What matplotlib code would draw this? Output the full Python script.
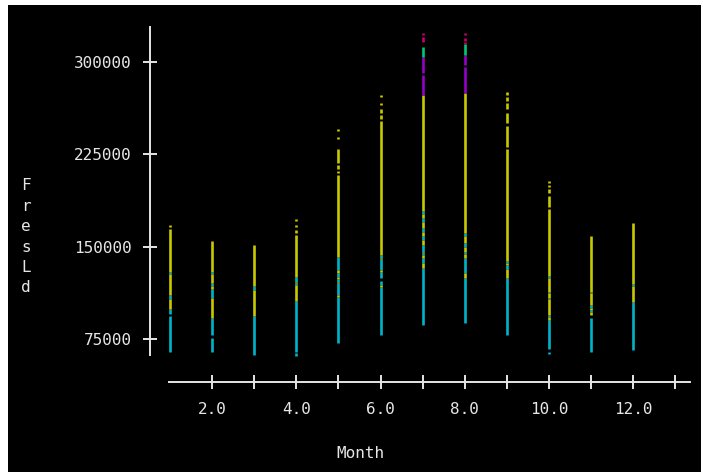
import matplotlib
matplotlib.use('Agg')
import matplotlib.pyplot as plt
from matplotlib.patches import Rectangle

# segments of the point strips: (month, low FresLd, high FresLd)
cyan_seg = [
    (1, 64700, 93900), (1, 95600, 99100), (1, 107300, 110800), (1, 128100, 129700),
    (2, 64700, 76100), (2, 78300, 92300), (2, 108600, 115600), (2, 118100, 120300), (2, 128100, 129700),
    (3, 62000, 93900), (3, 115100, 118100),
    (4, 61400, 63400), (4, 64700, 106100), (4, 118900, 120300), (4, 121600, 125100),
    (5, 71500, 108900), (5, 110800, 120300), (5, 121600, 123800), (5, 125100, 128900), (5, 131100, 141400),
    (6, 78300, 117000), (6, 118900, 122100), (6, 124300, 129700), (6, 131100, 139800), (6, 140600, 143300),
    (7, 86400, 132400), (7, 136500, 140600), (7, 143300, 144900), (7, 145900, 151400),
    (7, 155400, 158900), (7, 162200, 164900), (7, 170300, 173100), (7, 176300, 179000),
    (8, 87700, 124800), (8, 128400, 141100), (8, 143800, 145900), (8, 150000, 152800), (8, 158900, 160900),
    (9, 78300, 124800), (9, 131600, 135100), (9, 136500, 138400),
    (10, 63100, 64700), (10, 66900, 90400), (10, 92600, 94500), (10, 107500, 108600),
    (10, 112100, 113400), (10, 124800, 126400),
    (11, 64700, 92300), (11, 97200, 98600), (11, 100400, 102600), (11, 112100, 113400),
    (12, 66100, 105300), (12, 118100, 119400),
]
yellow_seg = [
    (1, 99100, 107300), (1, 110800, 128100), (1, 129700, 164100), (1, 166000, 167600),
    (2, 92300, 108600), (2, 115600, 118100), (2, 120300, 128100), (2, 129700, 154600),
    (3, 93900, 115100), (3, 118100, 151400),
    (4, 106100, 118900), (4, 120300, 121600), (4, 125100, 159500), (4, 161100, 163600),
    (4, 166000, 167600), (4, 171000, 172500),
    (5, 108900, 110800), (5, 120300, 121600), (5, 123800, 125100), (5, 128900, 131100),
    (5, 141400, 208000), (5, 210100, 211500), (5, 212900, 216100), (5, 218200, 229100),
    (5, 237500, 239100), (5, 244400, 246000),
    (6, 117000, 118900), (6, 129700, 131100), (6, 139800, 140600), (6, 143300, 252100),
    (6, 253500, 257000), (6, 258900, 261600), (6, 264900, 266500), (6, 271400, 273300),
    (7, 132400, 136500), (7, 140600, 143300), (7, 144900, 145900), (7, 151400, 155400),
    (7, 158900, 162200), (7, 164900, 170300), (7, 173100, 176300), (7, 179000, 273300),
    (8, 124800, 128400), (8, 141100, 143800), (8, 145900, 150000), (8, 152800, 158900), (8, 160900, 275100),
    (9, 124800, 131600), (9, 135100, 136500), (9, 138400, 229100), (9, 231200, 248300),
    (9, 250300, 258400), (9, 261900, 266500), (9, 268400, 271400), (9, 273300, 275400),
    (10, 90400, 92600), (10, 94500, 107500), (10, 108600, 112100), (10, 113400, 124800),
    (10, 126400, 180600), (10, 182500, 191400), (10, 193400, 196600), (10, 198300, 200100),
    (10, 201500, 203400),
    (11, 94500, 97200), (11, 98600, 100400), (11, 102600, 112100), (11, 113400, 158900),
    (12, 105300, 118100), (12, 119400, 169000),
]
purple_seg = [
    (7, 273300, 289500), (7, 290900, 304400),
    (8, 275100, 295800), (8, 297600, 305800),
]
green_seg = [
    (7, 304400, 312500),
    (8, 305800, 314400),
]
crimson_seg = [
    (7, 316100, 320600), (7, 322000, 323600),
    (8, 314400, 316100), (8, 317400, 319800), (8, 322000, 323600),
]

y_ticks = [75000, 150000, 225000, 300000]
x_major = [2, 4, 6, 8, 10, 12]
x_minor = [3, 5, 7, 9, 11, 13]

W, H = 703, 472
fg = '#e6e6e6'
font = 'DejaVu Sans Mono'

fig = plt.figure(figsize=(W / 100, H / 100), dpi=100, facecolor='white')
fig.patches.append(Rectangle((8 / W, 0), 693 / W, 467 / H, transform=fig.transFigure,
                             facecolor='black', edgecolor='none', zorder=-10))

ax = fig.add_axes([150 / W, 90 / H, 540 / W, 355 / H])
ax.set_facecolor('none')

for seg, col in [(cyan_seg, '#00b4c8'), (yellow_seg, '#c8c800'), (purple_seg, '#9600c8'),
                 (green_seg, '#00c878'), (crimson_seg, '#c80070')]:
    ax.vlines([s[0] for s in seg], [s[1] for s in seg], [s[2] for s in seg],
              colors=col, linewidth=1.9, capstyle='butt')

ax.set_xlim(0.525, 13.35)
ax.set_ylim(40062, 328500)

for side in ['top', 'right']:
    ax.spines[side].set_visible(False)
for side in ['left', 'bottom']:
    ax.spines[side].set_color(fg)
    ax.spines[side].set_linewidth(1.4)
ax.spines['left'].set_bounds(62000, 328500)
ax.spines['bottom'].set_bounds(0.976, 13.35)

ax.set_yticks(y_ticks)
ax.set_yticklabels([str(v) for v in y_ticks])
ax.set_xticks(x_major)
ax.set_xticklabels([f'{v:.1f}' for v in x_major])
ax.set_xticks(x_minor, minor=True)

ax.tick_params(which='both', direction='inout', length=10, width=1.4, color=fg,
               labelcolor=fg, labelsize=11.5)
ax.tick_params(axis='y', pad=8)
ax.tick_params(axis='x', pad=9.5)
for lab in ax.get_xticklabels() + ax.get_yticklabels():
    lab.set_fontfamily(font)

fig.text(26 / W, 1 - 237 / H, '\n'.join('FresLd'), ha='center', va='center',
         color=fg, fontsize=11.5, family=font, linespacing=1.45)
fig.text(360 / W, 1 - 453 / H, 'Month', ha='center', va='center',
         color=fg, fontsize=11.5, family=font)

fig.savefig('out.png', dpi=100, facecolor=fig.get_facecolor())
